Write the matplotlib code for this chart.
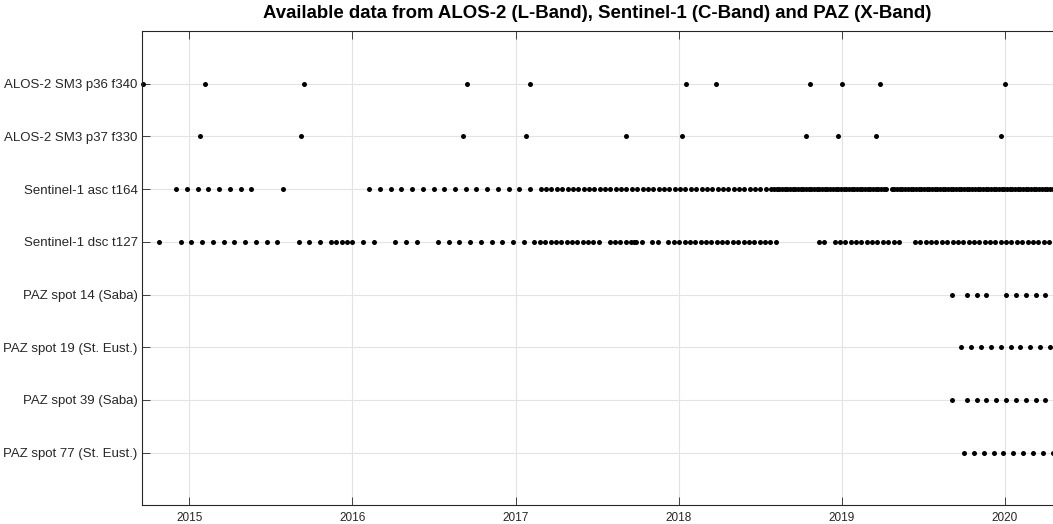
import numpy as np
import matplotlib
matplotlib.use('Agg')
import matplotlib.pyplot as plt
import matplotlib.dates as mdates

plt.rcParams['font.family'] = ['Liberation Sans', 'DejaVu Sans']

# acquisition dates, as days after 2014-01-01
labels = ['ALOS-2 SM3 p36 f340', 'ALOS-2 SM3 p37 f330', 'Sentinel-1 asc t164',
          'Sentinel-1 dsc t127', 'PAZ spot 14 (Saba)', 'PAZ spot 19 (St. Eust.)',
          'PAZ spot 39 (Saba)', 'PAZ spot 77 (St. Eust.)']

alos_p36 = [262, 400, 623, 987, 1128, 1477, 1544, 1756, 1826, 1911, 2191]
alos_p37 = [389, 615, 977, 1119, 1342, 1468, 1747, 1817, 1902, 2182]

s1_asc = [336, 360, 384, 408, 432, 456, 480, 504,
          576,
          768, 792, 816, 840, 864, 888, 912, 936, 960, 984, 1008, 1032, 1056, 1080, 1104, 1128,
          1152, 1164, 1176, 1188, 1200, 1212, 1224, 1236, 1248, 1260, 1272, 1284, 1296, 1308,
          1320, 1332, 1344, 1356, 1368, 1380, 1392, 1404, 1416, 1428, 1440, 1452, 1464, 1476,
          1488, 1500, 1512, 1524, 1536, 1548, 1560, 1572, 1584, 1596, 1608, 1620, 1632, 1644,
          1656, 1668,
          1674, 1680, 1686, 1692, 1698, 1704, 1710, 1716, 1722, 1728, 1734, 1740, 1746, 1752,
          1758, 1764, 1770, 1776, 1782, 1788, 1794, 1800, 1806, 1812, 1818, 1824, 1830, 1836,
          1842, 1848, 1854, 1860, 1866, 1872, 1878, 1884, 1890, 1896, 1902, 1908, 1914, 1920,
          1926,
          1938, 1944, 1950, 1956, 1962, 1968, 1974, 1980, 1986, 1992, 1998, 2004, 2010, 2016,
          2022, 2028, 2034, 2040, 2046, 2052, 2058, 2064, 2070, 2076, 2082, 2088, 2094, 2100,
          2106, 2112, 2118, 2124, 2130, 2136, 2142, 2148, 2154, 2160, 2166, 2172, 2178, 2184,
          2190, 2196, 2202, 2208, 2214, 2220, 2226, 2232, 2238, 2244, 2250, 2256, 2262, 2268,
          2274, 2280, 2286, 2292, 2298]

s1_dsc = [298, 346, 370, 394, 418, 442, 466, 490, 514, 538, 562,
          610, 634, 658, 682, 694, 706, 718, 730, 754, 778, 826, 850, 874,
          922, 946, 970, 994, 1018, 1042, 1066, 1090, 1114,
          1138, 1150, 1162, 1174, 1186, 1198, 1210, 1222, 1234, 1246, 1258, 1270, 1282,
          1306, 1318, 1330, 1342, 1354, 1360, 1366, 1378,
          1402, 1414,
          1438, 1450, 1462, 1474, 1486, 1498, 1510, 1522, 1534, 1546, 1558, 1570, 1582, 1594,
          1606, 1618, 1630, 1642, 1654, 1666, 1678,
          1774, 1786,
          1810, 1822, 1834, 1846, 1858, 1870, 1882, 1894, 1906, 1918, 1930, 1942, 1954,
          1990, 2002, 2014, 2026, 2038, 2050, 2062, 2074, 2086, 2098, 2110, 2122, 2134, 2146,
          2158, 2170, 2182, 2194, 2206, 2218, 2230, 2242, 2254, 2266, 2278, 2290]

paz_14 = [2073, 2106, 2128, 2150, 2194, 2216, 2238, 2260, 2282]
paz_19 = [2094, 2116, 2138, 2160, 2182, 2204, 2226, 2248, 2270, 2292]
paz_39 = [2073, 2106, 2128, 2150, 2172, 2194, 2216, 2238, 2260, 2282]
paz_77 = [2100, 2122, 2144, 2166, 2188, 2210, 2232, 2254, 2276, 2298]

rows = [alos_p36, alos_p37, s1_asc, s1_dsc, paz_14, paz_19, paz_39, paz_77]
t0 = np.datetime64('2014-01-01')

fig = plt.figure(figsize=(10.53, 5.24), dpi=100)
ax = fig.add_axes([0.1352, 0.0355, 0.8648, 0.9053])

for i, days in enumerate(rows):
    t = t0 + np.array(days, dtype='timedelta64[D]')
    ax.plot(t, np.full(len(t), i + 1), 'o', color='k', ms=3.6, mew=0, clip_on=False)

ax.set_ylim(9, 0)
ax.set_yticks(range(1, 9))
ax.set_yticklabels(labels, fontsize=9.5, color='#262626')
ax.set_xlim(t0 + np.timedelta64(260, 'D'), t0 + np.timedelta64(2299, 'D'))
ax.xaxis.set_major_locator(mdates.YearLocator())
ax.xaxis.set_major_formatter(mdates.DateFormatter('%Y'))
for lab in ax.get_xticklabels():
    lab.set_fontsize(8.5)
    lab.set_color('#262626')

ax.set_axisbelow(True)
ax.grid(True, color='#e3e3e3', lw=0.8)
ax.tick_params(direction='in', length=6, width=0.6, color='#262626', top=True)
ax.tick_params(axis='x', pad=5)
ax.tick_params(axis='y', pad=3.5)
for s in ['left', 'bottom', 'top']:
    ax.spines[s].set_color('#262626')
    ax.spines[s].set_linewidth(0.8)
ax.spines['right'].set_visible(False)

# title centred over the axes, placed like the reference
fig.text(0.1352 + 0.8648 / 2, 1 - 14 / 524,
         'Available data from ALOS-2 (L-Band), Sentinel-1 (C-Band) and PAZ (X-Band)',
         fontsize=13.4, fontweight='bold', ha='center', va='center')

fig.savefig('out.png', dpi=100)
